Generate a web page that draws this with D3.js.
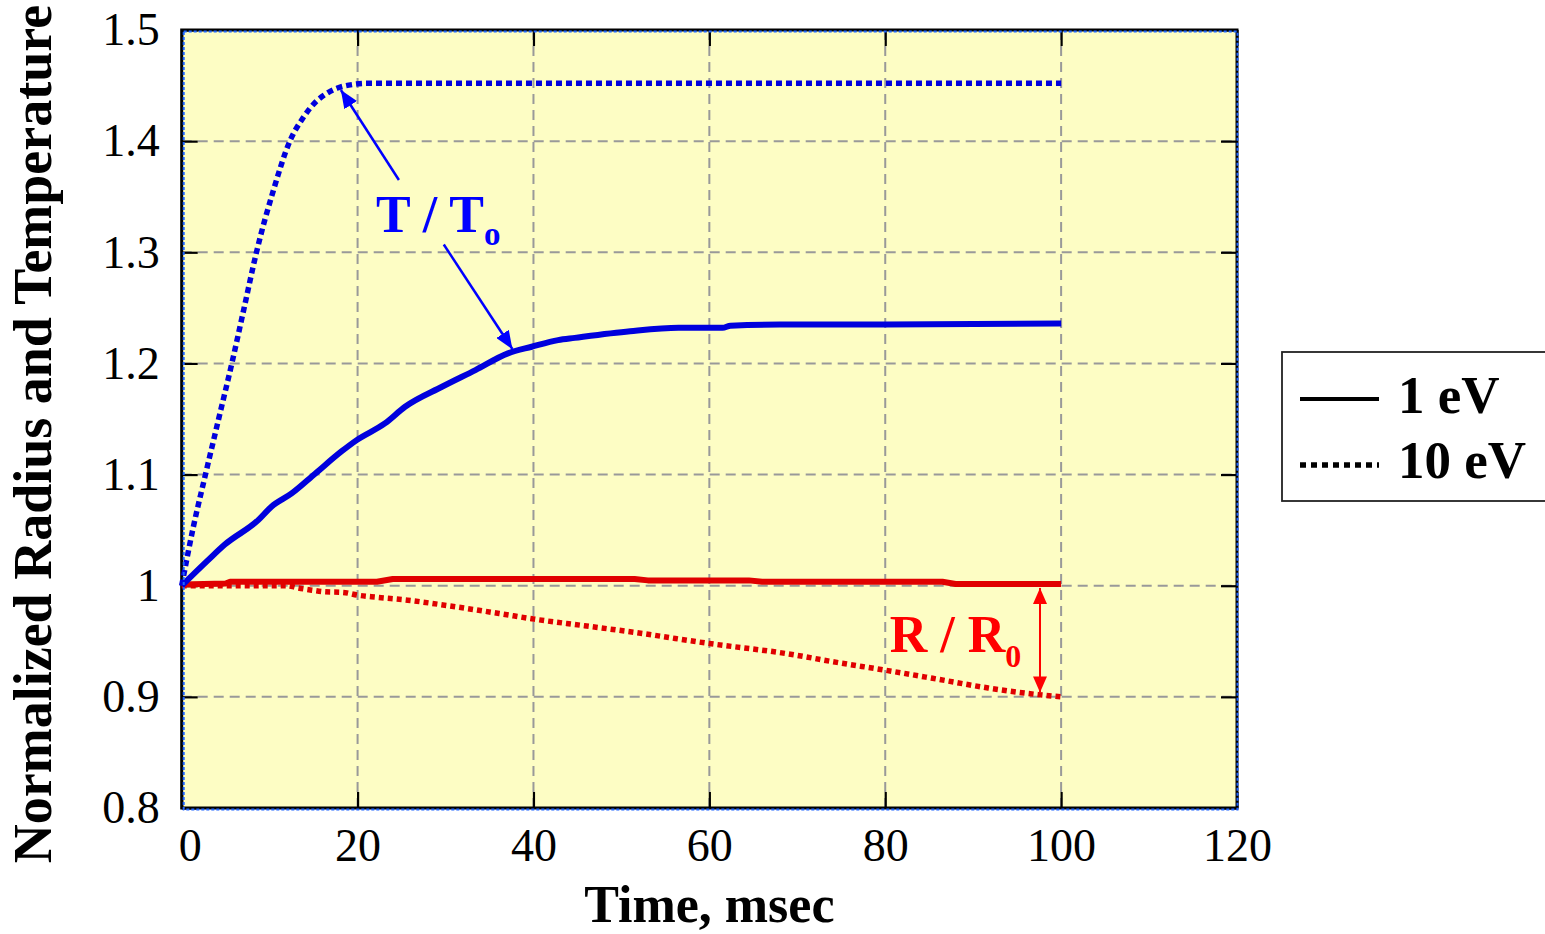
<!DOCTYPE html>
<html>
<head>
<meta charset="utf-8">
<script src="https://cdn.jsdelivr.net/npm/d3@7"></script>
<style>
  html, body { margin: 0; padding: 0; background: #ffffff; }
  svg { display: block; }
  text { font-family: "Liberation Serif", "Times New Roman", serif; }
</style>
</head>
<body>
<svg id="chart" width="1545" height="934"></svg>
<script>
// ---- data -------------------------------------------------------------
// Temperature ratio, 1 eV (solid blue)
const tT1 = [0, 3, 4.9, 8.7, 10.2, 12.5, 15.2, 18.2, 19.9, 23.1, 25.4, 29.6, 33.4, 37.1, 39.8, 42.8, 44.7, 51, 56.5, 61.5, 62.4, 68, 80, 100];
const vT1 = [1.0, 1.023, 1.037, 1.059, 1.071, 1.083, 1.101, 1.121, 1.131, 1.146, 1.161, 1.179, 1.194, 1.209, 1.215, 1.221, 1.223, 1.229, 1.232, 1.232, 1.234, 1.235, 1.235, 1.236];

// Temperature ratio, 10 eV (dotted blue)
const tT10 = [0, 1.3, 2.7, 4.2, 5.7, 7.1, 8.5, 10.4, 12.3, 13.8, 15.2, 16.5, 17.8, 19.5, 21, 40, 60, 80, 100];
const vT10 = [1.0, 1.052, 1.1, 1.15, 1.2, 1.25, 1.3, 1.355, 1.4, 1.421, 1.435, 1.443, 1.448, 1.451, 1.452, 1.452, 1.452, 1.452, 1.452];

// Radius ratio, 1 eV (solid red)
const tR1 = [0, 5, 5.5, 22.2, 24, 51.5, 53, 64.5, 66, 86.5, 88, 100];
const vR1 = [1.001, 1.002, 1.0036, 1.0036, 1.006, 1.006, 1.0048, 1.0048, 1.0036, 1.0036, 1.0015, 1.0015];

// Radius ratio, 10 eV (dotted red)
const tR10 = [0, 12, 13.2, 14.8, 16.3, 18.3, 20, 22.2, 25.7, 30.3, 36.1, 40, 45.8, 51.5, 60, 68.7, 74.5, 80, 85.9, 91.7, 97.4, 100];
const vR10 = [1.0, 1.0, 0.998, 0.996, 0.9945, 0.994, 0.9915, 0.9896, 0.987, 0.982, 0.975, 0.970, 0.964, 0.958, 0.948, 0.939, 0.931, 0.924, 0.916, 0.908, 0.902, 0.900];

// axes
const xTicks = [0, 20, 40, 60, 80, 100, 120];
const yTicks = [0.8, 0.9, 1.0, 1.1, 1.2, 1.3, 1.4, 1.5];
const yTickLabels = ["0.8", "0.9", "1", "1.1", "1.2", "1.3", "1.4", "1.5"];
const xTitle = "Time, msec";
const yTitle = "Normalized Radius and Temperature";

// legend
const legendLabels = ["1 eV", "10 eV"];

// ---- layout -----------------------------------------------------------
const svg = d3.select("#chart");
const L = 181.7, R = 1237, T = 30, B = 808;
const x = d3.scaleLinear().domain([0, 120]).range([L, R]);
const y = d3.scaleLinear().domain([0.8, 1.5]).range([B, T]);

const BLUE = "#0000dd", RED = "#e00000";
const DOT = "6,4";

// plot background
svg.append("rect")
  .attr("x", L).attr("y", T).attr("width", R - L).attr("height", B - T)
  .attr("fill", "#fdfdc4");

// dashed grid
const grid = svg.append("g").attr("stroke", "#999999").attr("stroke-width", 2).attr("stroke-dasharray", "10,6");
grid.selectAll("line.gx").data(xTicks.slice(1, -1)).join("line")
  .attr("x1", d => x(d)).attr("x2", d => x(d)).attr("y1", T).attr("y2", B);
grid.selectAll("line.gy").data(yTicks.slice(1, -1)).join("line")
  .attr("y1", d => y(d)).attr("y2", d => y(d)).attr("x1", L).attr("x2", R);

// axes: inside ticks on all four sides
const tickLen = 16;
const fontTick = 46;

const gx = svg.append("g").attr("transform", `translate(0,${B})`)
  .call(d3.axisBottom(x).tickValues(xTicks).tickSizeInner(-tickLen).tickSizeOuter(0).tickPadding(20).tickFormat(d3.format("d")));
const gy = svg.append("g").attr("transform", `translate(${L},0)`)
  .call(d3.axisLeft(y).tickValues(yTicks).tickSizeInner(-tickLen).tickSizeOuter(0).tickPadding(22)
    .tickFormat((d, i) => yTickLabels[i]));
const gt = svg.append("g").attr("transform", `translate(0,${T})`)
  .call(d3.axisTop(x).tickValues(xTicks).tickSizeInner(-tickLen).tickSizeOuter(0).tickFormat(""));
const gr = svg.append("g").attr("transform", `translate(${R},0)`)
  .call(d3.axisRight(y).tickValues(yTicks).tickSizeInner(-tickLen).tickSizeOuter(0).tickFormat(""));

[gx, gy, gt, gr].forEach(g => {
  g.select(".domain").remove();
  g.selectAll(".tick line").attr("stroke", "#000").attr("stroke-width", 2.2);
  g.selectAll(".tick text").attr("font-size", fontTick).attr("fill", "#000")
    .attr("font-family", "'Liberation Serif', 'Times New Roman', serif");
});
// first time label sits just inside the frame
gx.selectAll(".tick text").filter(d => d === 0).attr("dx", 8);

// frame
svg.append("rect")
  .attr("x", L).attr("y", T).attr("width", R - L).attr("height", B - T)
  .attr("fill", "none").attr("stroke", "#000").attr("stroke-width", 3);

// ---- series -----------------------------------------------------------
const smooth = d3.line().x(d => x(d[0])).y(d => y(d[1])).curve(d3.curveMonotoneX);
const straight = d3.line().x(d => x(d[0])).y(d => y(d[1]));
const zip = (a, b) => a.map((v, i) => [v, b[i]]);

const series = [
  { t: tR10, v: vR10, color: RED, dash: "5,4", gen: smooth, w: 5.5 },
  { t: tR1, v: vR1, color: RED, dash: null, gen: straight, w: 6 },
  { t: tT10, v: vT10, color: BLUE, dash: DOT, gen: smooth, w: 5.5 },
  { t: tT1, v: vT1, color: BLUE, dash: null, gen: smooth, w: 6 }
];
svg.append("g").selectAll("path").data(series).join("path")
  .attr("d", s => s.gen(zip(s.t, s.v)))
  .attr("fill", "none")
  .attr("stroke", s => s.color)
  .attr("stroke-width", s => s.w)
  .attr("stroke-linejoin", "round")
  .attr("stroke-dasharray", s => s.dash);

// dotted selection outline round the plot area
svg.append("rect")
  .attr("x", L + 2).attr("y", T + 1.5).attr("width", R - L - 1.5).attr("height", B - T + 0)
  .attr("fill", "none").attr("stroke", "#1e64ff").attr("stroke-width", 2).attr("stroke-dasharray", "3,2");

// ---- annotations ------------------------------------------------------
const defs = svg.append("defs");
function arrowMarker(id, color, len, wid) {
  defs.append("marker").attr("id", id)
    .attr("viewBox", `0 0 ${len} ${wid}`)
    .attr("refX", len).attr("refY", wid / 2)
    .attr("markerWidth", len).attr("markerHeight", wid)
    .attr("markerUnits", "userSpaceOnUse")
    .attr("orient", "auto-start-reverse")
    .append("path").attr("d", `M0,0 L${len},${wid / 2} L0,${wid} Z`).attr("fill", color);
}
arrowMarker("arrBlue", "#0000ff", 18, 15);
arrowMarker("arrRed", "#ff0000", 16, 14);

// T / To label with two pointers
const tLabel = svg.append("text")
  .attr("x", x(22.1)).attr("y", y(1.318))
  .attr("font-size", 52).attr("font-weight", "bold").attr("fill", "#0000ff");
tLabel.append("tspan").text("T / T");
tLabel.append("tspan").attr("font-size", 33).attr("dy", 13).text("o");

const tArrows = [
  { x1: 24.7, y1: 1.365, x2: 18.1, y2: 1.446 },
  { x1: 29.8, y1: 1.307, x2: 37.6, y2: 1.213 }
];
svg.append("g").selectAll("line").data(tArrows).join("line")
  .attr("x1", d => x(d.x1)).attr("y1", d => y(d.y1))
  .attr("x2", d => x(d.x2)).attr("y2", d => y(d.y2))
  .attr("stroke", "#0000ff").attr("stroke-width", 2.5)
  .attr("marker-end", "url(#arrBlue)");

// R / R0 label with a double-headed span marker
const rLabel = svg.append("text")
  .attr("x", x(80.5)).attr("y", y(0.94))
  .attr("font-size", 52).attr("font-weight", "bold").attr("fill", "#ff0000");
rLabel.append("tspan").text("R / R");
rLabel.append("tspan").attr("font-size", 32).attr("dy", 15).text("0");

svg.append("line")
  .attr("x1", x(97.6)).attr("x2", x(97.6))
  .attr("y1", y(0.998)).attr("y2", y(0.904))
  .attr("stroke", "#ff0000").attr("stroke-width", 2)
  .attr("marker-start", "url(#arrRed)")
  .attr("marker-end", "url(#arrRed)");

// ---- titles -----------------------------------------------------------
svg.append("text")
  .attr("x", (L + R) / 2).attr("y", 922)
  .attr("text-anchor", "middle").attr("font-size", 52).attr("font-weight", "bold")
  .text(xTitle);
svg.append("text")
  .attr("transform", "translate(51,434) rotate(-90)")
  .attr("text-anchor", "middle").attr("font-size", 54).attr("font-weight", "bold")
  .text(yTitle);

// ---- legend -----------------------------------------------------------
const lg = svg.append("g");
lg.append("rect")
  .attr("x", 1282).attr("y", 352).attr("width", 290).attr("height", 149)
  .attr("fill", "#fff").attr("stroke", "#222").attr("stroke-width", 1.8);
const legendDash = [null, "6,5"];
const lgItems = lg.selectAll("g.item").data(legendLabels).join("g")
  .attr("transform", (d, i) => `translate(0,${i === 0 ? 399 : 465})`);
lgItems.append("line")
  .attr("x1", 1300).attr("x2", 1379).attr("y1", 0).attr("y2", 0)
  .attr("stroke", "#000").attr("stroke-width", (d, i) => i === 0 ? 4 : 5.5)
  .attr("stroke-dasharray", (d, i) => legendDash[i]);
lgItems.append("text")
  .attr("x", 1398).attr("y", (d, i) => i === 0 ? 14 : 13)
  .attr("font-size", 53).attr("font-weight", "bold")
  .text(d => d);
</script>
</body>
</html>
